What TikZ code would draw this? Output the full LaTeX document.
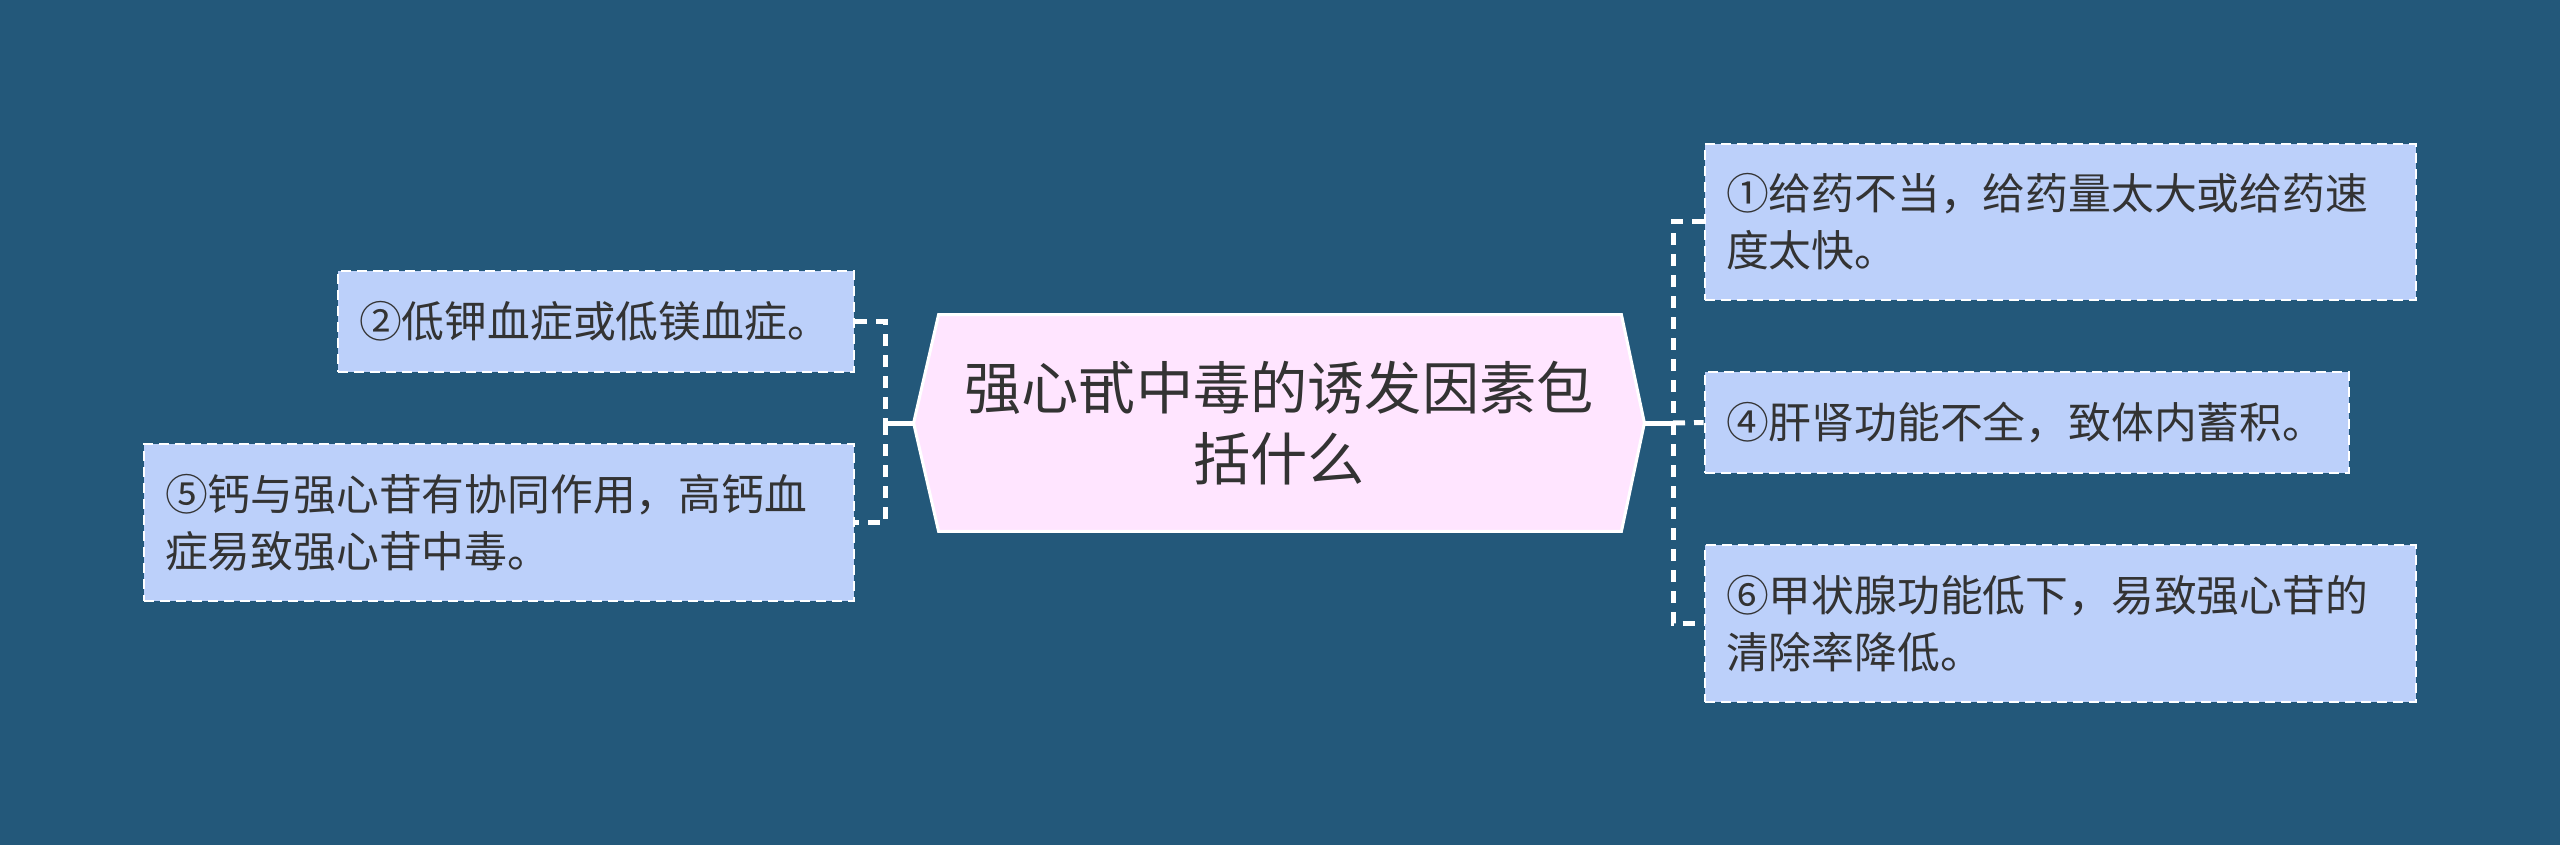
\documentclass[tikz,border=0pt]{standalone}
\usepackage{fontspec}
\setmainfont{Noto Sans CJK SC}
\usetikzlibrary{calc,backgrounds}
\definecolor{bgc}{HTML}{23587A}
\definecolor{boxfill}{HTML}{BCD0FA}
\definecolor{cfill}{HTML}{FFE5FF}
\definecolor{txt}{HTML}{333333}
\tikzset{
  leaf/.style={fill=boxfill, draw=white, line width=1.4pt, dash pattern=on 5pt off 3pt,
    inner xsep=10.5pt, inner ysep=0pt, align=left, text=txt,
    font=\fontsize{21.4pt}{28.5pt}\selectfont},
  centre/.style={inner sep=0pt, minimum width=365pt, minimum height=108pt, align=center,
    text=txt, font=\fontsize{28.6pt}{35.5pt}\selectfont},
  solidlink/.style={draw=white, line width=2.5pt},
  dashlink/.style={draw=white, line width=2.5pt, dash pattern=on 6pt off 4.5pt},
}
\begin{document}
\begin{tikzpicture}[x=0.5pt,y=-0.5pt]
\useasboundingbox (0,0) rectangle (2560,845);
\node[centre] (c) at (1279,423) {强心甙中毒的诱发因素包\\括什么};
\begin{scope}[on background layer]
  \fill[bgc] (0,0) rectangle (2560,845);
  \filldraw[fill=cfill, draw=white, line width=1.5pt]
    (c.west) -- ($(c.north west)+(25,0)$) -- ($(c.north east)+(-23,0)$) -- (c.east)
    -- ($(c.south east)+(-23,0)$) -- ($(c.south west)+(25,0)$) -- cycle;
\end{scope}
% left leaves
\node[leaf, text width=237pt, minimum height=50.5pt] (b2) at (596,321.5) {②低钾血症或低镁血症。};
\node[leaf, text width=334pt, minimum height=78.5pt] (b5) at (499,522.5) {⑤钙与强心苷有协同作用，高钙血\\症易致强心苷中毒。};
% right leaves
\node[leaf, text width=334.5pt, minimum height=78pt] (b1) at (2060.5,222) {①给药不当，给药量太大或给药速\\度太快。};
\node[leaf, text width=301pt, minimum height=50.5pt] (b4) at (2027,422.5) {④肝肾功能不全，致体内蓄积。};
\node[leaf, text width=334.5pt, minimum height=78.5pt] (b6) at (2060.5,623.5) {⑥甲状腺功能低下，易致强心苷的\\清除率降低。};
% junctions
\coordinate (lj) at (885,423);
\coordinate (rj) at (1673,423);
\draw[solidlink] (c.west) -- (lj);
\draw[dashlink] (b2.east) -| (lj);
\draw[dashlink] (lj) |- (b5.east);
\draw[solidlink] (c.east) -- (rj);
\draw[dashlink] (b1.west) -| (rj);
\draw[dashlink] (rj) |- (b6.west);
\draw[dashlink] (rj) -- (b4.west);
\end{tikzpicture}
\end{document}
